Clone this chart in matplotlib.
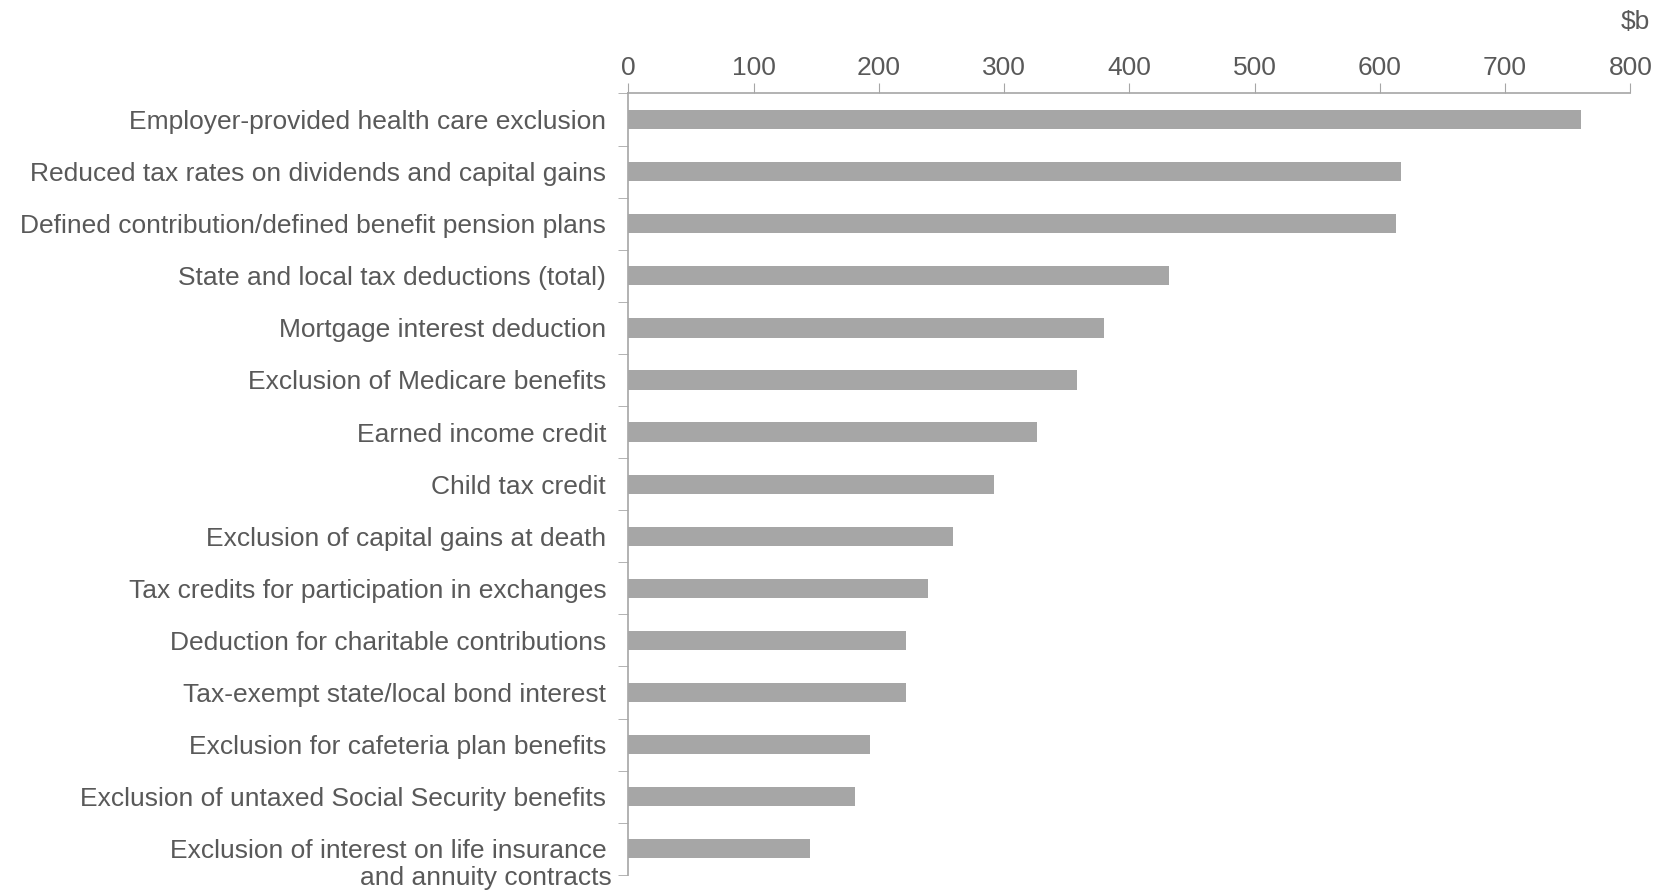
import matplotlib.pyplot as plt
import numpy as np

# Data
labels = [
    'Employer-provided health care exclusion',
    'Reduced tax rates on dividends and capital gains',
    'Defined contribution/defined benefit pension plans',
    'State and local tax deductions (total)',
    'Mortgage interest deduction',
    'Exclusion of Medicare benefits',
    'Earned income credit',
    'Child tax credit',
    'Exclusion of capital gains at death',
    'Tax credits for participation in exchanges',
    'Deduction for charitable contributions',
    'Tax-exempt state/local bond interest',
    'Exclusion for cafeteria plan benefits',
    'Exclusion of untaxed Social Security benefits',
    'Exclusion of interest on life insurance',
]
last_label_line2 = 'and annuity contracts'
values = [761, 617, 613, 432, 380, 358, 326, 292, 259, 239, 222, 222, 193, 181, 145]
xticks = [0, 100, 200, 300, 400, 500, 600, 700, 800]

plt.rcParams['font.family'] = ['Liberation Sans', 'DejaVu Sans']
text_c = '#595959'
axis_c = '#a6a6a6'
fs = 19

fig = plt.figure(figsize=(16.67, 8.9), dpi=100)
ax = fig.add_axes([0.377, 0.017, 0.601, 0.878])

y = np.arange(len(labels))
ax.barh(y, values, height=0.37, color='#a6a6a6')
ax.set_ylim(len(labels) - 0.5, -0.5)
ax.set_xlim(0, 800)

# x axis on top
ax.xaxis.tick_top()
ax.set_xticks(xticks)
ax.tick_params(axis='x', direction='out', length=7, color=axis_c, labelsize=fs,
               labelcolor=text_c, pad=3)

ax.set_yticks(y)
ax.set_yticklabels(labels)
ax.set_yticks(np.arange(len(labels) + 1) - 0.5, minor=True)
ax.tick_params(axis='y', which='major', length=0, labelsize=fs, labelcolor=text_c, pad=16)
ax.tick_params(axis='y', which='minor', length=7, color=axis_c)

# second line of the last label hangs below the bar
ax.annotate(last_label_line2, xy=(0, y[-1]), xytext=(-12, -19), textcoords='offset points',
            ha='right', va='center_baseline', fontsize=fs, color=text_c, annotation_clip=False)

for s in ['right', 'bottom']:
    ax.spines[s].set_visible(False)
for s in ['left', 'top']:
    ax.spines[s].set_color(axis_c)
    ax.spines[s].set_linewidth(1.2)

fig.text(0.99, 0.975, '$b', ha='right', va='center', fontsize=fs, color=text_c)

plt.savefig('out.png', dpi=100)
